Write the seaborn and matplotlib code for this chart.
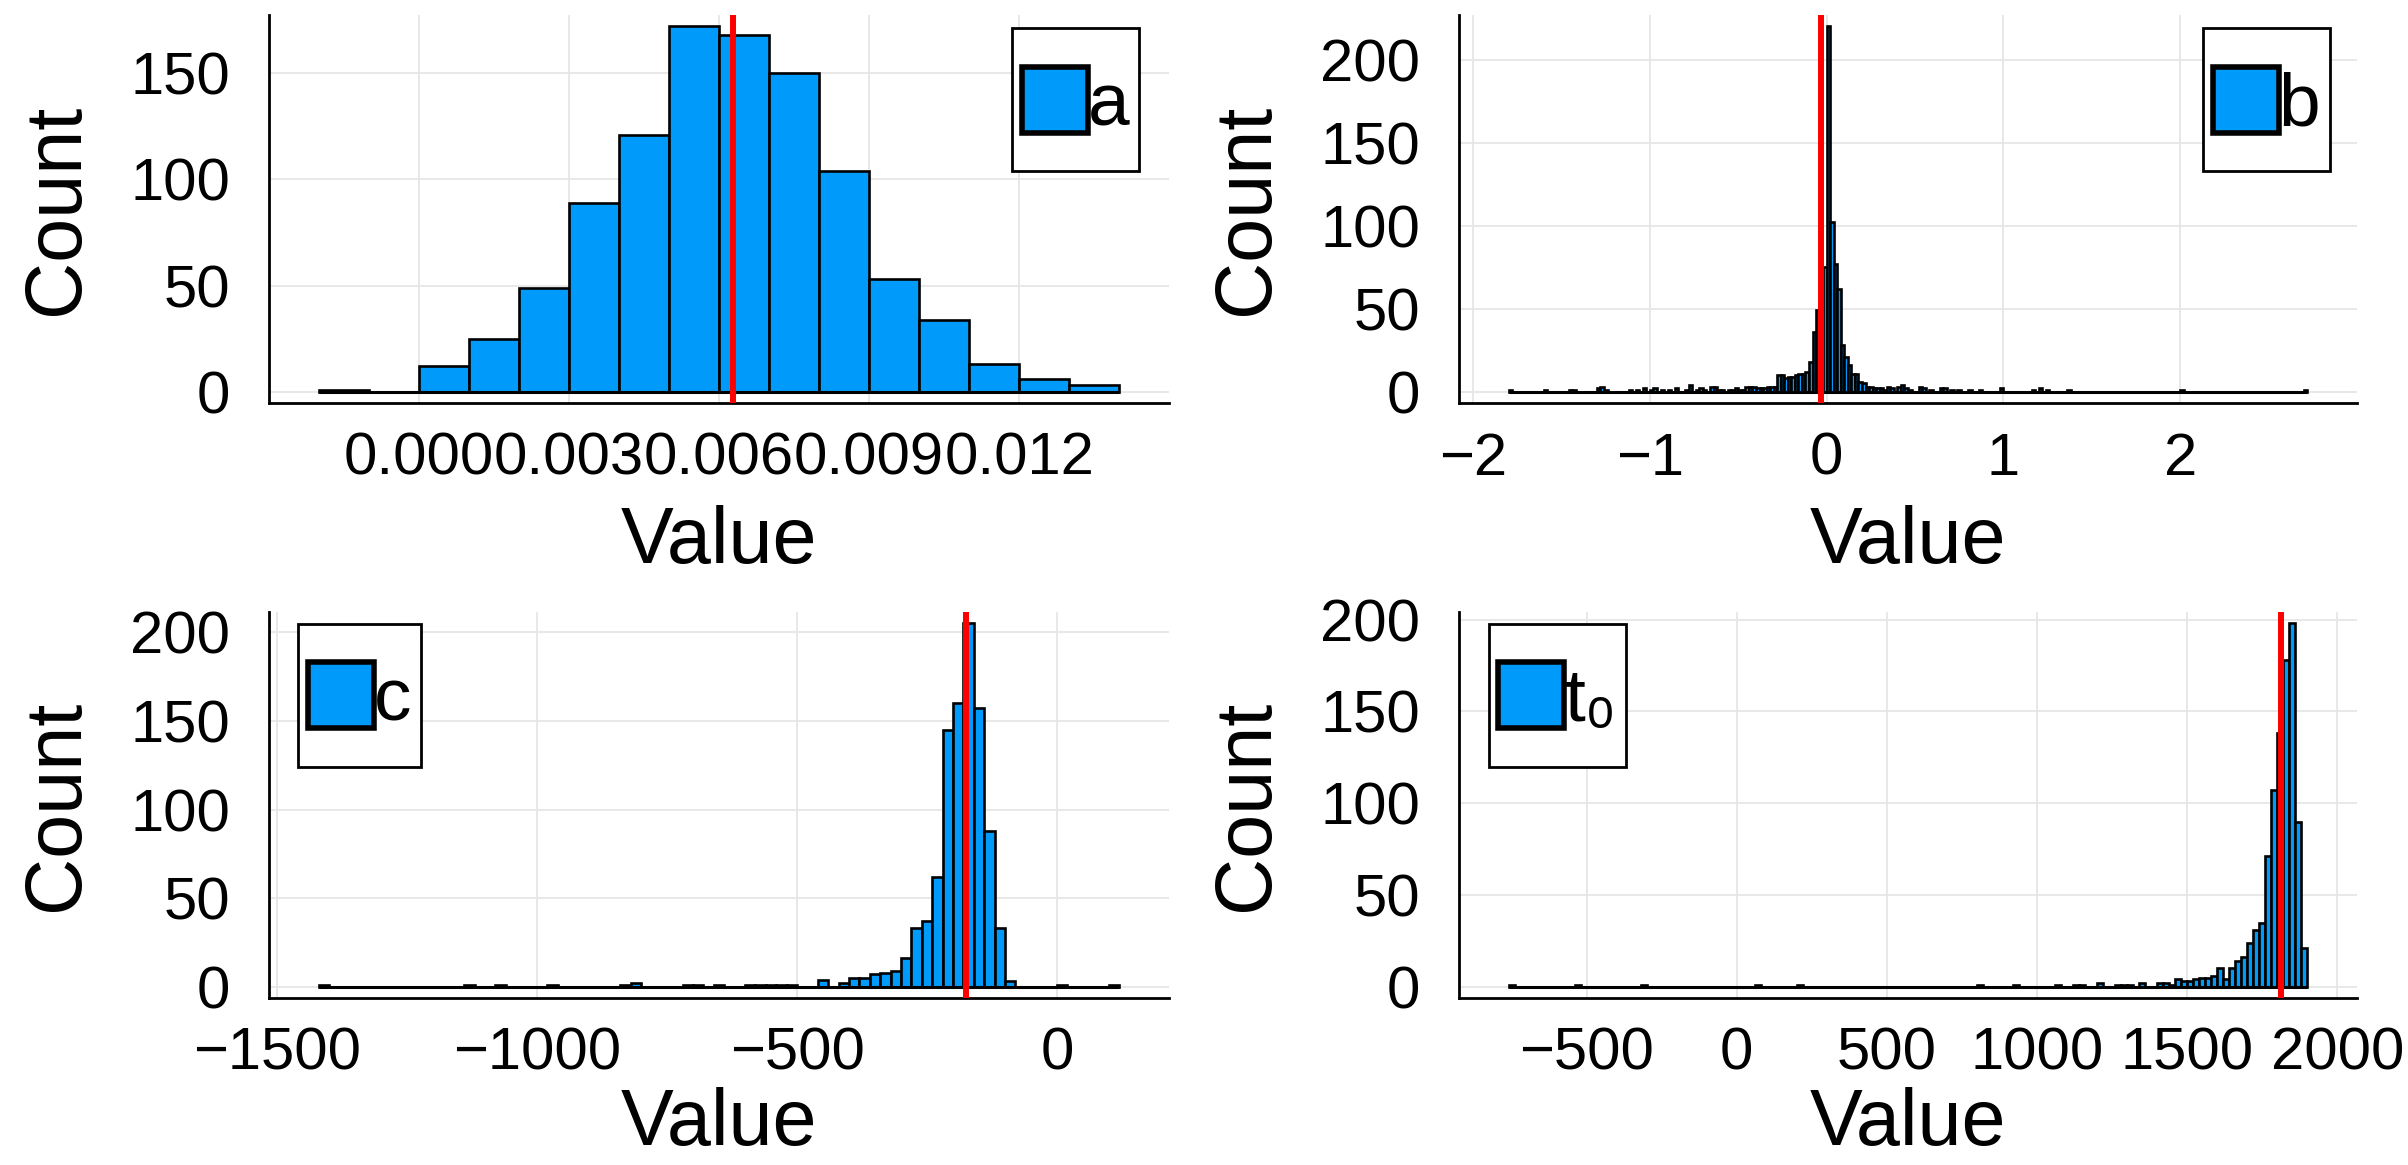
import numpy as np
import pandas as pd
import seaborn as sns
import matplotlib.pyplot as plt
from matplotlib.patches import Patch, Rectangle
from matplotlib.legend_handler import HandlerPatch
from matplotlib.ticker import FuncFormatter

# ---- data (bin left edge -> count) ----
a_width = 0.001
a_left = [-0.002, -0.001, 0.000, 0.001, 0.002, 0.003, 0.004, 0.005,
          0.006, 0.007, 0.008, 0.009, 0.010, 0.011, 0.012, 0.013]
a_counts = [1, 0, 12, 25, 49, 89, 121, 172, 168, 150, 104, 53, 34, 13, 6, 3]
a_range = (-0.002, 0.014)
a_mark = 0.00627

b_width = 0.02
b_left = [-1.80, -1.60, -1.46, -1.44, -1.30, -1.28, -1.26, -1.12, -1.08, -1.04,
          -1.00, -0.98, -0.94, -0.90, -0.86, -0.80, -0.78, -0.74, -0.72, -0.70,
          -0.66, -0.64, -0.62, -0.60, -0.56, -0.54, -0.52, -0.50, -0.48, -0.46,
          -0.44, -0.42, -0.40, -0.38, -0.36, -0.34, -0.32, -0.30,
          -0.28, -0.26, -0.24, -0.22, -0.20, -0.18, -0.16, -0.14, -0.12, -0.10,
          -0.08, -0.06, -0.04, -0.02, 0.00, 0.02, 0.04, 0.06, 0.08, 0.10,
          0.12, 0.14, 0.16, 0.18, 0.20, 0.22, 0.24, 0.26,
          0.28, 0.30, 0.32, 0.34, 0.36, 0.40, 0.42, 0.44, 0.46, 0.52,
          0.54, 0.58, 0.64, 0.66, 0.70, 0.74, 0.80, 0.86, 0.98, 1.16,
          1.20, 1.24, 1.36, 2.00, 2.70]
b_counts = [1, 1, 1, 1, 2, 3, 1, 1, 1, 2,
            1, 2, 1, 1, 2, 1, 4, 1, 2, 1,
            3, 3, 1, 1, 1, 1, 2, 1, 1, 3,
            3, 3, 2, 2, 2, 3, 3, 3,
            10, 10, 8, 9, 9, 10, 11, 11, 12, 18,
            36, 49, 63, 75, 220, 102, 77, 62, 28, 21,
            16, 11, 11, 6, 5, 3, 3, 2,
            2, 2, 1, 3, 2, 3, 4, 2, 1, 3,
            2, 1, 2, 2, 1, 1, 1, 1, 2, 1,
            2, 1, 1, 1, 1]
b_range = (-1.80, 2.72)
b_mark = -0.03

c_width = 20
c_left = [-1420, -1140, -1080, -980, -840, -820, -720, -700, -660, -600,
          -580, -560, -540, -520, -460, -420, -400, -380, -360, -340,
          -320, -300, -280, -260, -240, -220, -200, -180, -160, -140,
          -120, -100, 0, 100]
c_counts = [1, 1, 1, 1, 1, 2, 1, 1, 1, 1,
            1, 1, 1, 1, 4, 2, 5, 5, 7, 8,
            9, 16, 33, 37, 62, 145, 160, 205, 157, 88,
            33, 3, 1, 1]
c_range = (-1420, 120)
c_mark = -176

t_width = 20
t_left = [-760, -540, -320, 60, 200, 800, 920, 1060, 1120, 1140,
          1200, 1260, 1280, 1300, 1340, 1400, 1420, 1440, 1460, 1480,
          1500, 1520, 1540, 1560, 1580, 1600, 1620, 1640, 1660, 1680,
          1700, 1720, 1740, 1760, 1780, 1800, 1820, 1840, 1860, 1880]
t_counts = [1, 1, 1, 1, 1, 1, 1, 1, 1, 1,
            2, 1, 1, 1, 2, 2, 2, 1, 4, 3,
            3, 4, 5, 5, 6, 10, 4, 10, 14, 16,
            24, 31, 35, 71, 107, 138, 178, 198, 90, 21]
t_range = (-760, 1900)
t_mark = 1813

labels = ["a", "b", "c", "t\u2080"]
x_ticks = [[0.000, 0.003, 0.006, 0.009, 0.012],
           [-2, -1, 0, 1, 2],
           [-1500, -1000, -500, 0],
           [-500, 0, 500, 1000, 1500, 2000]]
y_ticks = [[0, 50, 100, 150],
           [0, 50, 100, 150, 200],
           [0, 50, 100, 150, 200],
           [0, 50, 100, 150, 200]]

sns.set_style("white")
plt.rcParams["font.family"] = ["Liberation Sans", "DejaVu Sans"]
for key in ["text.color", "axes.labelcolor", "xtick.color", "ytick.color"]:
    plt.rcParams[key] = "black"

BLUE = "#009AFA"

fig = plt.figure(figsize=(24.08, 11.65), dpi=100)
positions = [
    [0.1117, 0.654, 0.3738, 0.333],
    [0.6059, 0.654, 0.3729, 0.333],
    [0.1117, 0.1433, 0.3738, 0.3313],
    [0.6059, 0.1433, 0.3729, 0.3313],
]
panels = [
    (a_left, a_counts, a_width, a_range, a_mark),
    (b_left, b_counts, b_width, b_range, b_mark),
    (c_left, c_counts, c_width, c_range, c_mark),
    (t_left, t_counts, t_width, t_range, t_mark),
]
legend_loc = [("upper right", (0.967, 0.966)), ("upper right", (0.970, 0.966)),
              ("upper left", (0.032, 0.969)), ("upper left", (0.033, 0.969))]


def fmt_int(v, p):
    return f"{v:.0f}".replace("-", "\u2212")


def fmt_3(v, p):
    return f"{v:.3f}".replace("-", "\u2212")


def square_patch(legend, orig_handle, xdescent, ydescent, width, height, fontsize):
    # small square swatch centred in a tall legend row
    ph = width
    return Rectangle((-xdescent, -ydescent + (height - ph) / 2), width, ph)


for i, (left, counts, width, rng, mark) in enumerate(panels):
    ax = fig.add_axes(positions[i])
    edges = np.round(np.arange(rng[0], rng[1] + width / 2, width), 6).tolist()
    df = pd.DataFrame({"value": np.array(left) + width / 2,
                       "count": np.array(counts, dtype=float)})
    sns.histplot(data=df, x="value", weights="count", bins=edges, ax=ax,
                 color=BLUE, alpha=1, edgecolor="black", linewidth=1.9)
    # empty bins show as an outlined zero line
    ax.hlines(0, rng[0], rng[1], color="black", lw=2.2, zorder=2)
    ax.axvline(mark, color="#FF0000", lw=4.3, zorder=5)

    span = rng[1] - rng[0]
    ax.set_xlim(rng[0] - 0.062 * span, rng[1] + 0.062 * span)
    ymax = max(counts)
    ax.set_ylim(-0.031 * ymax, 1.031 * ymax)

    ax.set_xticks(x_ticks[i])
    ax.set_yticks(y_ticks[i])
    ax.xaxis.set_major_formatter(FuncFormatter(fmt_3 if i == 0 else fmt_int))
    ax.yaxis.set_major_formatter(FuncFormatter(fmt_int))
    ax.grid(True, color="#e6e6e6", lw=1.3)
    ax.set_axisbelow(True)
    for s in ["top", "right"]:
        ax.spines[s].set_visible(False)
    for s in ["left", "bottom"]:
        ax.spines[s].set_linewidth(2)
        ax.spines[s].set_color("black")
    ax.tick_params(direction="in", length=11, width=2.2, labelsize=43,
                   color="black")
    ax.tick_params(axis="x", pad=20.5)
    ax.tick_params(axis="y", pad=28)

    ax.set_xlabel("Value", fontsize=57, labelpad=13 if i < 2 else 4)
    ax.set_ylabel("Count", fontsize=57, labelpad=25)

    handle = Patch(facecolor=BLUE, edgecolor="black", linewidth=4)
    loc, anchor = legend_loc[i]
    leg = ax.legend([handle], [labels[i]], loc=loc, bbox_to_anchor=anchor,
                    borderaxespad=0, fontsize=54, fancybox=False,
                    framealpha=1, edgecolor="black", handlelength=0.88,
                    handleheight=2.15, handletextpad=0.0, borderpad=0.13,
                    handler_map={Patch: HandlerPatch(patch_func=square_patch)})
    leg.get_frame().set_linewidth(2)
    leg.get_texts()[0].set_y(-2)
    leg.set_zorder(10)

fig.savefig("out.png", dpi=100)
